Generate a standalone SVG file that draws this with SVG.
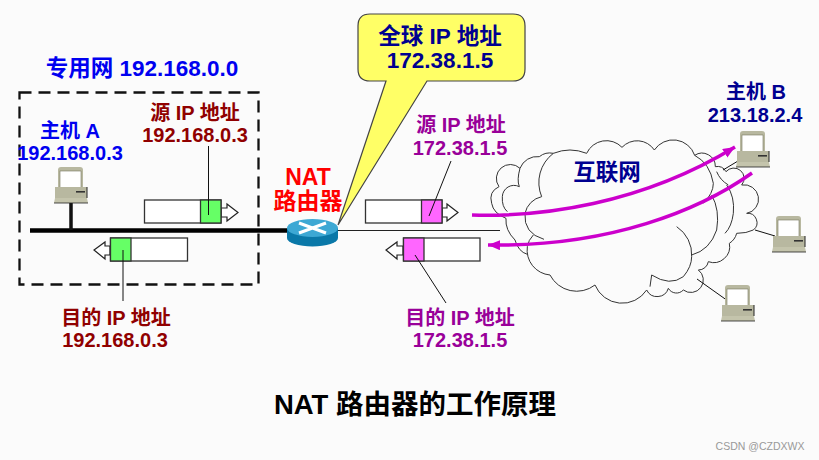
<svg xmlns="http://www.w3.org/2000/svg" width="819" height="460" viewBox="0 0 819 460">
<style>
text{font-family:"Liberation Sans","Noto Sans CJK SC",sans-serif;font-weight:bold;font-size:20px;text-anchor:middle}
.blue{fill:#0000f0}.red{fill:#900000}.pur{fill:#990099}.navy{fill:#000090}.nat{fill:#ff0000}
.pk{fill:#fff;stroke:#333;stroke-width:1.3}
.g{fill:#66ff66;stroke:#333;stroke-width:1.3}.m{fill:#ff66ff;stroke:#333;stroke-width:1.3}
.ar{fill:#fff;stroke:#222;stroke-width:1.200}
.ld{fill:none;stroke:#111;stroke-width:1}
.cl{fill:none;stroke:#333;stroke-width:3}
.mg{fill:none;stroke:#cc00cc;stroke-width:3.500}
</style>
<defs>
<marker id="ah" markerUnits="userSpaceOnUse" markerWidth="14" markerHeight="12" refX="12" refY="5" orient="auto"><path d="M0 0L12 5L0 10Z" fill="#cc00cc"/></marker>
<g id="pc">
<path d="M3 21V3Q3 0 6 0H25Q28 0 28 3V21Z" fill="#b8b8a0"/>
<rect x="5" y="4" width="21" height="17" fill="#fff" stroke="#77775f" stroke-width=".6"/>
<rect x="0" y="20" width="32" height="11" fill="#b8b8a0"/>
<rect x="21" y="24" width="9" height="1.6" fill="#333"/>
<path d="M32 20V31" stroke="#222" stroke-width="1"/>
<path d="M0 31H32L33 36H-1Z" fill="#c4c4ac"/>
<path d="M-1 36H33" stroke="#222" stroke-width=".8"/>
</g>
</defs>
<rect width="819" height="460" fill="#fbfbfb"/>
<g id="private-network"><rect x="19.500" y="92.500" width="239" height="192" fill="none" stroke="#111" stroke-width="2.300" stroke-dasharray="12 7"/>
<text x="142" y="76" class="blue" style="font-size:22.500px">专用网 192.168.0.0</text></g>
<g id="cloud" transform="translate(470 70) scale(.33333)">
<path fill="#fbfbfb" stroke="none" d="M85 350L62 385L78 440L110 470L135 530L172 550L240 615L330 680L460 712L580 690L685 625L715 575L780 510L850 480L830 430L840 380L815 320L735 290L675 250L670 230L555 240L455 235L350 250L210 260L150 295L85 320Z"/>
<path class="cl" d="M87 350A42 42 0 0 1 150 295A55 55 0 0 1 208 260A50 50 0 0 1 250 250Q300 230 350 250A65 65 0 0 1 456 232A62 62 0 0 1 553 240A68 68 0 0 1 674 256A40 40 0 0 1 736 290A30 30 0 0 1 768 305A28 28 0 0 1 815 345A32 32 0 0 1 830 430A28 28 0 0 1 850 480Q830 490 800 490A50 50 0 0 1 778 520A48 48 0 0 1 715 575A30 30 0 0 1 685 600A24 24 0 0 1 640 660A28 28 0 0 1 595 655A35 35 0 0 1 530 660A88 88 0 0 1 375 645A90 90 0 0 1 240 615A75 75 0 0 1 172 530Q175 510 190 495"/>
<path class="cl" d="M87 350Q55 365 65 400Q70 430 108 445Q105 480 135 510Q145 545 172 553"/>
<path class="cl" d="M150 295Q140 330 148 350A35 35 0 0 0 97 380Q95 410 112 425"/>
<path class="cl" d="M250 250A110 110 0 0 0 215 380A65 65 0 0 0 165 430Q160 490 222 508"/>
<path class="cl" d="M674 256Q720 280 730 340Q730 370 700 400M725 375Q750 420 740 480Q720 540 665 555"/>
<path class="cl" d="M620 470A100 100 0 0 1 665 560Q665 590 640 620Q600 650 545 615L540 650"/>
<path class="cl" d="M770 345Q795 380 790 430Q785 470 765 490M740 305Q750 330 775 345"/>
</g>
<g id="connectors">
<path d="M30 230.500H288" stroke="#000" stroke-width="4.500"/>
<path d="M71 203V230" stroke="#111" stroke-width="3.500"/>
<path d="M338 230.500H500" stroke="#222" stroke-width="1.200"/>
<path d="M723 170L738 161M755 230L775 236M697 279L728 301" class="ld"/>
</g>
<g id="callout"><path d="M370 14H513Q525 14 525 26V69Q525 81 513 81H427L338 225L386 81H370Q358 81 358 69V26Q358 14 370 14Z" fill="#ffff66" stroke="#444" stroke-width="1.200"/>
<text x="440" y="44" class="navy" style="font-size:22.500px">全球 IP 地址</text>
<text x="440" y="68" class="navy" style="font-size:22.500px">172.38.1.5</text></g>
<g id="host-a"><use href="#pc" x="55" y="167"/><text x="70" y="138" class="blue">主机 A</text><text x="70" y="160" class="blue">192.168.0.3</text></g>
<g id="host-b"><use href="#pc" x="737" y="131"/><text x="756" y="99" class="navy">主机 B</text><text x="755" y="122" class="navy">213.18.2.4</text></g>
<g id="host-c"><use href="#pc" x="773" y="216"/></g>
<g id="host-d"><use href="#pc" x="722" y="285"/></g>
<g id="router">
<path d="M287 228V238A25.500 8.500 0 0 0 338 238V228Z" fill="#0a78a8"/>
<ellipse cx="312.500" cy="228" rx="25.500" ry="9" fill="#3da8d4"/>
<path d="M299 223L326 233M326 223L299 233" fill="none" stroke="#fff" stroke-width="3"/>
<text x="308" y="185" class="nat" style="font-size:23px">NAT</text>
<text x="308" y="209" class="nat" style="font-size:23px">路由器</text>
</g>
<g id="packet-a-src">
<path class="ar" d="M221 208H227V204L238 212.500L227 221V217H221Z"/><rect class="pk" x="144.500" y="200" width="76.500" height="23"/><rect class="g" x="200.500" y="200" width="20.500" height="23"/>
<text x="195" y="120" class="red">源 IP 地址</text><text x="195" y="142" class="red">192.168.0.3</text></g>
<g id="packet-a-dst">
<path class="ar" d="M110 246H105V242L94 250L105 259V255H110Z"/><rect class="pk" x="110.500" y="238" width="77" height="23"/><rect class="g" x="110.500" y="238" width="20.500" height="23"/>
<text x="116" y="325" class="red">目的 IP 地址</text><text x="115" y="347" class="red">192.168.0.3</text></g>
<g id="packet-b-src">
<path class="ar" d="M442 208H447V204L458 212.500L447 221V217H442Z"/><rect class="pk" x="365.500" y="200" width="76.500" height="23"/><rect class="m" x="421.500" y="200" width="20.500" height="23"/>
<text x="461" y="132" class="pur">源 IP 地址</text><text x="460" y="155" class="pur">172.38.1.5</text></g>
<g id="packet-b-dst">
<path class="ar" d="M403 246H397V242L386 250L397 259V255H403Z"/><rect class="pk" x="403.500" y="238" width="76.500" height="23"/><rect class="m" x="403.500" y="238" width="20.500" height="23"/>
<text x="460" y="325" class="pur">目的 IP 地址</text><text x="460" y="347" class="pur">172.38.1.5</text></g>
<g id="leaders">
<path class="ld" d="M208.500 146V215M123 250V301M451 161L429 216M415 255L446 303"/>
</g>
<g id="flows">
<path class="mg" marker-end="url(#ah)" d="M472 215C540 217 640 205 735 147"/>
<path class="mg" marker-end="url(#ah)" d="M752 173C700 210 610 247 488 245"/>
</g>
<text x="607" y="180" class="navy" style="font-size:22.500px">互联网</text>
<text x="415" y="414" style="font-size:27.500px;fill:#000">NAT 路由器的工作原理</text>
<text x="760" y="450" style="font-size:10.500px;font-weight:normal;fill:#999">CSDN @CZDXWX</text>
</svg>
